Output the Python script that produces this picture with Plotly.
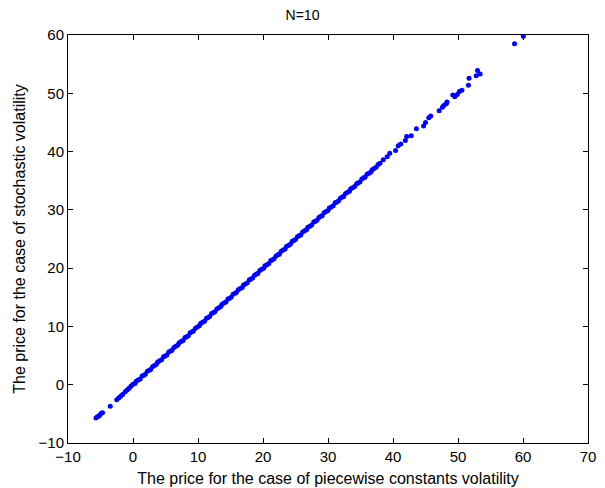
import plotly.graph_objects as go

# Lower tail
x_low = [-5.7, -5.5, -5.3, -5.1, -4.9, -4.7, -3.5, -2.5, -2.2, -1.9, -1.6, -1.2, -0.9, -0.6]
y_low = [-5.7, -5.5, -5.4, -5.2, -4.9, -4.8, -3.7, -2.6, -2.3, -2.0, -1.7, -1.2, -0.9, -0.6]

# Dense middle part
x_mid = [-0.3, 0.0, 0.3, 0.5, 0.8, 1.1, 1.4, 1.6, 1.9, 2.2,
         2.5, 2.7, 3.0, 3.3, 3.6, 3.8, 4.1, 4.4, 4.7, 4.9,
         5.2, 5.5, 5.8, 6.0, 6.3, 6.6, 6.9, 7.1, 7.4, 7.7,
         8.0, 8.2, 8.5, 8.8, 9.1, 9.3, 9.6, 9.9, 10.2, 10.4,
         10.7, 11.0, 11.3, 11.5, 11.8, 12.1, 12.4, 12.6, 12.9, 13.2,
         13.5, 13.7, 14.0, 14.3, 14.6, 14.8, 15.1, 15.4, 15.7, 15.9,
         16.2, 16.5, 16.8, 17.0, 17.3, 17.6, 17.9, 18.1, 18.4, 18.7,
         19.0, 19.2, 19.5, 19.8, 20.1, 20.3, 20.6, 20.9, 21.2, 21.4,
         21.7, 22.0, 22.3, 22.5, 22.8, 23.1, 23.4, 23.6, 23.9, 24.2,
         24.5, 24.7, 25.0, 25.3, 25.6, 25.8, 26.1, 26.4, 26.7, 26.9,
         27.2, 27.5, 27.8, 28.0, 28.3, 28.6, 28.9, 29.1, 29.4, 29.7,
         30.0, 30.2, 30.5, 30.8, 31.1, 31.3, 31.6, 31.9, 32.2, 32.4,
         32.7, 33.0, 33.3, 33.5, 33.8, 34.1, 34.4, 34.6, 34.9, 35.2,
         35.5, 35.7, 36.0, 36.3, 36.6, 36.8, 37.1, 37.4, 37.7]
y_mid = [-0.2, 0.1, 0.2, 0.6, 0.8, 1.0, 1.5, 1.6, 1.8, 2.3,
         2.5, 2.6, 3.1, 3.3, 3.5, 3.9, 4.1, 4.3, 4.8, 4.9,
         5.1, 5.6, 5.8, 5.9, 6.4, 6.6, 6.8, 7.2, 7.4, 7.6,
         8.1, 8.2, 8.4, 8.9, 9.1, 9.2, 9.7, 9.9, 10.1, 10.5,
         10.7, 10.9, 11.4, 11.5, 11.7, 12.2, 12.4, 12.5, 13.0, 13.2,
         13.4, 13.8, 14.0, 14.2, 14.7, 14.8, 15.0, 15.5, 15.7, 15.8,
         16.3, 16.5, 16.7, 17.1, 17.3, 17.5, 18.0, 18.1, 18.3, 18.8,
         19.0, 19.1, 19.6, 19.8, 20.0, 20.4, 20.6, 20.8, 21.3, 21.4,
         21.6, 22.1, 22.3, 22.4, 22.9, 23.1, 23.3, 23.7, 23.9, 24.1,
         24.6, 24.7, 24.9, 25.4, 25.6, 25.7, 26.2, 26.4, 26.6, 27.0,
         27.2, 27.4, 27.9, 28.0, 28.2, 28.7, 28.9, 29.0, 29.5, 29.7,
         29.9, 30.3, 30.5, 30.7, 31.2, 31.3, 31.5, 32.0, 32.2, 32.3,
         32.8, 33.0, 33.2, 33.6, 33.8, 34.0, 34.5, 34.6, 34.8, 35.3,
         35.5, 35.6, 36.1, 36.3, 36.5, 36.9, 37.1, 37.3, 37.8]

# Sparse upper tail
x_high = [38.0, 38.5, 39.1, 39.5, 40.4, 40.8, 41.2, 41.9, 42.1, 42.8,
          43.6, 44.7, 45.0, 45.5, 45.8, 47.1, 47.6, 47.8, 48.2, 48.3,
          49.2, 49.5, 49.9, 50.2, 50.6, 51.6, 51.7, 52.8, 53.0, 53.4,
          58.7, 60.05]
y_high = [38.0, 38.6, 39.1, 39.7, 40.2, 41.0, 41.3, 41.9, 42.6, 42.7,
          43.9, 44.4, 45.0, 45.8, 46.1, 47.0, 47.6, 47.9, 48.2, 48.5,
          49.7, 49.4, 49.8, 50.3, 50.5, 51.4, 52.6, 53.0, 53.9, 53.3,
          58.5, 59.8]

x_vals = x_low + x_mid + x_high
y_vals = y_low + y_mid + y_high

x_ticks = [-10, 0, 10, 20, 30, 40, 50, 60, 70]
y_ticks = [-10, 0, 10, 20, 30, 40, 50, 60]

FAM = "Liberation Sans, Arial, sans-serif"
tick_font = dict(family=FAM, size=15, color="black")
title_font = dict(family=FAM, size=16, color="black")

fig = go.Figure(go.Scatter(
    x=x_vals, y=y_vals, mode="markers",
    marker=dict(color="#0000ff", size=5, line=dict(width=0)),
    showlegend=False,
))

axis_common = dict(
    showgrid=False, zeroline=False, showline=True, linecolor="black", linewidth=1,
    mirror="ticks", ticks="inside", ticklen=5, tickcolor="black", tickwidth=1,
    tickfont=tick_font, automargin=False,
)

fig.update_layout(
    width=605, height=488,
    margin=dict(l=68, r=17, t=35, b=45),
    paper_bgcolor="white", plot_bgcolor="white",
    font=tick_font,
    title=dict(text="N=10", x=0.5, xanchor="center", y=0.97, yanchor="middle",
               font=dict(family=FAM, size=14, color="black")),
    xaxis=dict(range=[-10, 70], tickvals=x_ticks,
               title=dict(text="The price for the case of piecewise constants volatility",
                          font=title_font, standoff=8),
               **axis_common),
    yaxis=dict(range=[-10, 60], tickvals=y_ticks,
               title=dict(text="The price for the case of stochastic volatility",
                          font=title_font, standoff=8),
               **axis_common),
)

fig.write_html("out.html")
